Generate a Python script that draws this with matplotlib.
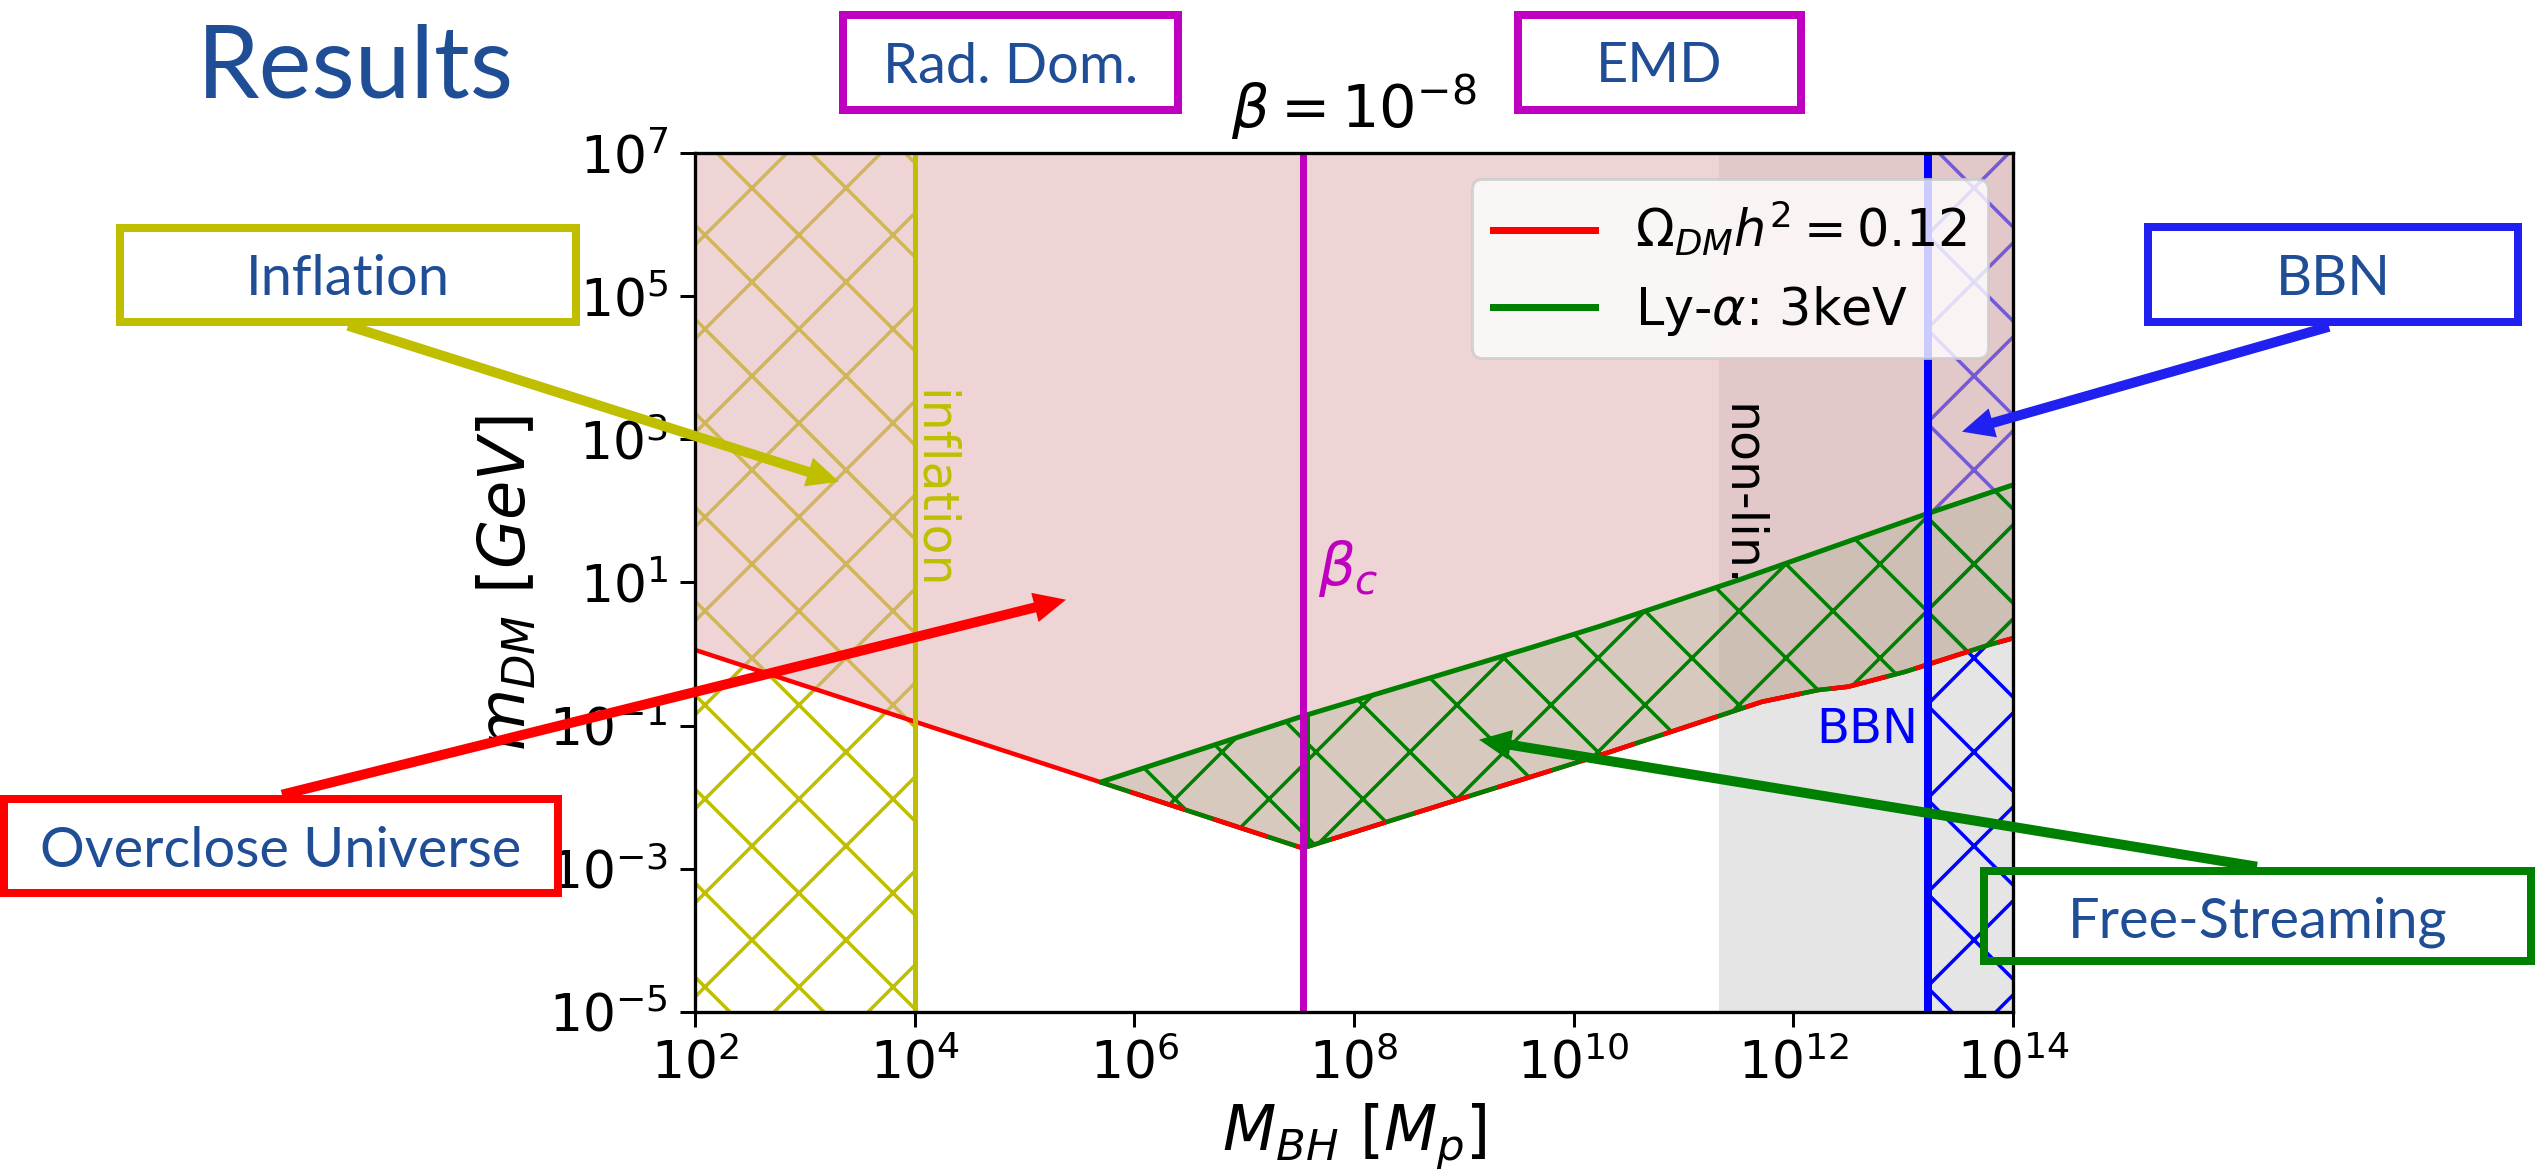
import numpy as np
import matplotlib
matplotlib.use('Agg')
import matplotlib.pyplot as plt
from matplotlib.patches import Rectangle, FancyArrow
from matplotlib.lines import Line2D
import matplotlib.transforms as mtransforms

W, H = 2537, 1169
DPI = 564
Wf, Hf = W + 0.3, H + 0.3


def pt(px):
    return px * 72.0 / DPI


plt.rcParams.update({
    'lines.scale_dashes': False,
    'hatch.linewidth': pt(3.5),
    'axes.linewidth': pt(3.3),
    'xtick.major.size': pt(15), 'ytick.major.size': pt(15),
    'xtick.major.width': pt(3), 'ytick.major.width': pt(3),
    'xtick.major.pad': pt(12), 'ytick.major.pad': pt(12),
    'xtick.labelsize': pt(52), 'ytick.labelsize': pt(52),
    'legend.fontsize': pt(51),
    'patch.linewidth': pt(3),
})

# ---------------- data ----------------
x_ticks = [1e2, 1e4, 1e6, 1e8, 1e10, 1e12, 1e14]
y_ticks = [1e-5, 1e-3, 1e-1, 1e1, 1e3, 1e5, 1e7]
M_range = (1e2, 1e14)
m_range = (1e-5, 1e7)

# relic abundance line  Omega_DM h^2 = 0.12
relic_M = np.array([1e2, 3.42e7, 1.75e10, 5.19e11, 1.70e12, 3.16e12, 1.05e13, 6.03e13, 1e14])
relic_m = np.array([1.14, 1.93e-3, 3.86e-2, 0.215, 0.314, 0.349, 0.566, 1.34, 1.66])

# Lyman-alpha 3 keV bound
lya_M = np.array([5.06e5, 3.24e7, 3.89e9, 1.74e10, 3.16e11, 1.70e13, 1e14])
lya_m = np.array([1.64e-2, 0.132, 1.20, 2.45, 10.8, 92.9, 231.0])

M_inflation = 1e4
M_beta_c = 3.42e7
M_edge_band = 3.8e7
M_nonlin = 2.1e11
M_bbn = 1.7e13

legend_labels = [r'$\Omega_{DM}h^2 = 0.12$', r'Ly-$\alpha$: 3keV']
title_text = r'$\beta = 10^{-8}$'

text_blue = '#1F4E96'


def loginterp(x, xp, fp):
    return 10 ** np.interp(np.log10(x), np.log10(xp), np.log10(fp))


# band between relic line and Ly-alpha line
band_x = np.unique(np.concatenate([lya_M, relic_M[relic_M >= lya_M[0]]]))
band_lo = loginterp(band_x, relic_M, relic_m)
band_hi = loginterp(band_x, lya_M, lya_m)

# ---------------- figure ----------------
fig = plt.figure(figsize=(Wf / DPI, Hf / DPI), dpi=DPI)
fig.patch.set_facecolor('white')

ax = fig.add_axes([695 / Wf, 1 - 1012 / Hf, (2013 - 695) / Wf, (1012 - 153.5) / Hf])
ax.set_xscale('log')
ax.set_yscale('log')
ax.set_xlim(*M_range)
ax.set_ylim(*m_range)

# regions
ax.axvspan(M_nonlin, M_range[1], color='gray', alpha=0.2, lw=0, zorder=0.5)
ax.fill_between(band_x, band_lo, band_hi, facecolor='green', alpha=0.19, lw=0, zorder=0.6)
ax.fill_between([M_range[0], M_inflation], m_range[0], m_range[1], facecolor='none',
                edgecolor='y', hatch='xx', lw=pt(3), zorder=0.7)
ax.fill_between([M_bbn, M_range[1]], m_range[0], m_range[1], facecolor='none',
                edgecolor='b', hatch='xx', lw=0, zorder=0.8)
ax.fill_between(relic_M, relic_m, m_range[1], facecolor=(224 / 255, 174 / 255, 174 / 255),
                alpha=0.52, lw=0, zorder=1)
ax.fill_between(band_x, band_lo, band_hi, facecolor='none', edgecolor='green',
                hatch='xx', lw=0, zorder=1.5)

# lines
ax.plot(relic_M, relic_m, color='red', lw=pt(4.5), zorder=2)
ax.plot(band_x, band_lo, color='green', lw=pt(4.5), zorder=2.1)
ax.plot(lya_M, lya_m, color='green', lw=pt(5), zorder=2.1)
dash = (pt(57), (pt(57), pt(30)))
left = band_x <= M_beta_c
right = band_x >= M_beta_c
ax.plot(band_x[left], band_lo[left], color='red', lw=pt(4.5), ls=dash, zorder=2.2)
ax.plot(band_x[right], band_lo[right], color='red', lw=pt(4.5), ls=dash, zorder=2.2)
ax.vlines(M_edge_band, loginterp(M_edge_band, relic_M, relic_m),
          loginterp(M_edge_band, lya_M, lya_m), color='green', lw=pt(4), zorder=2.2)

ax.axvline(M_inflation, color='y', lw=pt(5), zorder=2.5)
ax.axvline(M_beta_c, color='m', lw=pt(7), zorder=2.5)
ax.axvline(M_bbn, color='b', lw=pt(8), zorder=2.5)

# in-plot labels
ax.text(1.1e4, 4.9e3, 'inflation', color='y', rotation=-90, rotation_mode='anchor',
        ha='left', va='baseline', fontsize=pt(49), zorder=3)
ax.text(2.5e11, 3.2e3, 'non-lin.', color='black', rotation=-90, rotation_mode='anchor',
        ha='left', va='baseline', fontsize=pt(49), zorder=3)
ax.text(4.7e7, 16, r'$\beta_c$', color='m', ha='left', va='center', fontsize=pt(58), zorder=3)
ax.text(1.38e13, 0.089, 'BBN', color='b', ha='right', va='center', fontsize=pt(48), zorder=3)

ax.set_xticks(x_ticks)
ax.set_yticks(y_ticks)
ax.minorticks_off()

ax.text(0.5, 1.030, title_text, transform=ax.transAxes, ha='center', va='baseline',
        fontsize=pt(59))
ax.set_xlabel(r'$M_{BH}$ $[M_p]$', fontsize=pt(62))
ax.xaxis.set_label_coords(0.5, -0.105)
ax.set_ylabel(r'$m_{DM}$ $[GeV]$', fontsize=pt(64), labelpad=pt(10))

handles = [Line2D([], [], color='red', lw=pt(7)), Line2D([], [], color='green', lw=pt(7))]
leg = ax.legend(handles, legend_labels, loc='upper right')
leg.set_zorder(5)

# ---------------- slide annotations ----------------
fig.text(355 / Wf, 1 - 97 / Hf, 'Results', ha='center', va='baseline', fontsize=pt(100),
         color=text_blue, family=['Lato', 'DejaVu Sans'])


def add_box(x0, y0, x1, y1, color, text, baseline):
    rect = Rectangle((x0 / Wf, 1 - y1 / Hf), (x1 - x0) / Wf, (y1 - y0) / Hf,
                     transform=fig.transFigure, fill=False, edgecolor=color,
                     lw=pt(8), zorder=10)
    fig.add_artist(rect)
    fig.text((x0 + x1) / 2 / Wf, 1 - baseline / Hf, text, ha='center', va='baseline',
             fontsize=pt(56), color=text_blue, family=['Lato', 'DejaVu Sans'], zorder=10)


add_box(843, 15, 1178, 110, '#C000C0', 'Rad. Dom.', 83)
add_box(1518, 15, 1801, 110, '#C000C0', 'EMD', 82)
add_box(120, 228, 576, 322, '#BFBF00', 'Inflation', 295)
add_box(2148, 227, 2518, 322, '#2020F0', 'BBN', 295)
add_box(4, 799, 558, 893, '#FF0000', 'Overclose Universe', 867)
add_box(1984, 871, 2531, 961, '#008000', 'Free-Streaming', 937)


def add_arrow(x0, y0, x1, y1, color):
    a = FancyArrow(x0, Hf - y0, x1 - x0, -(y1 - y0), width=10, head_width=30, head_length=32,
                   length_includes_head=True, color=color, lw=0,
                   transform=mtransforms.IdentityTransform(), zorder=11)
    fig.add_artist(a)


add_arrow(348, 326, 839, 482, '#BFBF00')
add_arrow(282, 795, 1066, 600, '#FF0000')
add_arrow(2329, 327, 1962, 432, '#2020F0')
add_arrow(2257, 867, 1479, 740, '#008000')

fig.savefig('out.png', dpi=DPI, facecolor='white')
